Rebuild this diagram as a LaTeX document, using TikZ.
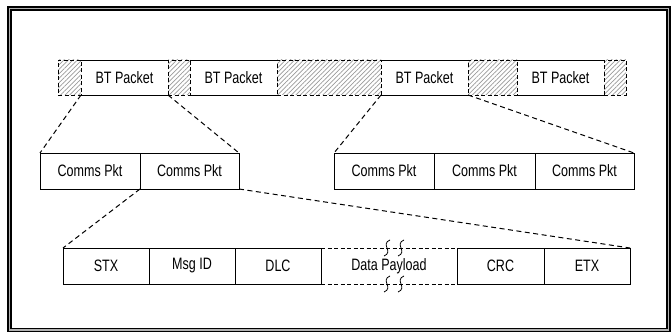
\documentclass[tikz,border=0pt]{standalone}
\usepackage{fontspec}
\setmainfont[FakeStretch=0.76]{Liberation Sans}
\usetikzlibrary{positioning,patterns.meta}

\tikzset{
  box/.style={draw, line width=0.9pt, minimum height=36pt, inner sep=0pt, outer sep=0pt},
  btpkt/.style={minimum width=87pt, minimum height=35pt, inner sep=0pt, outer sep=0pt},
  gap/.style={draw, dash pattern=on 4pt off 2.5pt, line width=0.9pt,
    pattern={Lines[angle=45, distance=3.2pt, line width=0.7pt]}, pattern color=gray!80,
    minimum height=35pt, inner sep=0pt, outer sep=0pt},
  link/.style={dash pattern=on 5pt off 3.5pt, line width=1pt},
}

\begin{document}
\begin{tikzpicture}[x=1pt, y=1pt, font=\fontsize{16.5}{18}\selectfont]
  \useasboundingbox (0,0) rectangle (671,332);
  \draw[line width=1.4pt, double=gray!60, double distance=1.6pt] (9.5,2) rectangle (668.5,323.5);

  \node[gap, minimum width=23pt, anchor=west] (g0) at (58,254.5) {};
  \node[btpkt, right=0pt of g0] (bt1) {BT Packet};
  \node[gap, minimum width=22pt, right=0pt of bt1] (g1) {};
  \node[btpkt, right=0pt of g1] (bt2) {BT Packet};
  \node[gap, minimum width=104pt, right=0pt of bt2] (g2) {};
  \node[btpkt, right=0pt of g2] (bt3) {BT Packet};
  \node[gap, minimum width=49pt, right=0pt of bt3] (g3) {};
  \node[btpkt, right=0pt of g3] (bt4) {BT Packet};
  \node[gap, minimum width=22pt, right=0pt of bt4] (g4) {};
  \foreach \n in {bt1,bt2,bt3,bt4}
    \draw[line width=0.9pt] (\n.north west) -- (\n.north east) (\n.south west) -- (\n.south east);

  \node[box, minimum width=100pt, anchor=west] (cp1) at (40,161) {Comms Pkt};
  \node[box, minimum width=99pt, right=0pt of cp1] (cp2) {Comms Pkt};
  \node[box, minimum width=100pt, anchor=west] (cp3) at (334,161) {Comms Pkt};
  \node[box, minimum width=101pt, right=0pt of cp3] (cp4) {Comms Pkt};
  \node[box, minimum width=99pt, right=0pt of cp4] (cp5) {Comms Pkt};

  \node[box, minimum width=86pt, anchor=west] (stx) at (63,66) {STX};
  \node[box, minimum width=86pt, right=0pt of stx] (msgid) {Msg ID};
  \node[box, minimum width=86pt, right=0pt of msgid] (dlc) {DLC};
  \node[minimum width=136pt, minimum height=36pt, inner sep=0pt, outer sep=0pt, right=0pt of dlc] (payload) {Data Payload};
  \node[box, minimum width=87pt, right=0pt of payload] (crc) {CRC};
  \node[box, minimum width=86pt, right=0pt of crc] (etx) {ETX};
  \draw[dash pattern=on 4pt off 2.5pt, line width=0.9pt]
    (payload.north west) -- (payload.north east) (payload.south west) -- (payload.south east);
  \foreach \s in {-2,12}
    \foreach \a in {north,south}
      \draw[line width=0.8pt, shift={(payload.\a)}, xshift=\s]
        (3,8) .. controls (-7,4) and (7,-4) .. (-3,-8);

  \draw[link] (bt1.south west) -- (cp1.north west);
  \draw[link] (bt1.south east) -- (cp2.north east);
  \draw[link] (bt3.south west) -- (cp3.north west);
  \draw[link] (bt3.south east) -- (cp5.north east);
  \draw[link] (cp2.south west) -- (stx.north west);
  \draw[link] (cp2.south east) -- (etx.north east);
\end{tikzpicture}
\end{document}
